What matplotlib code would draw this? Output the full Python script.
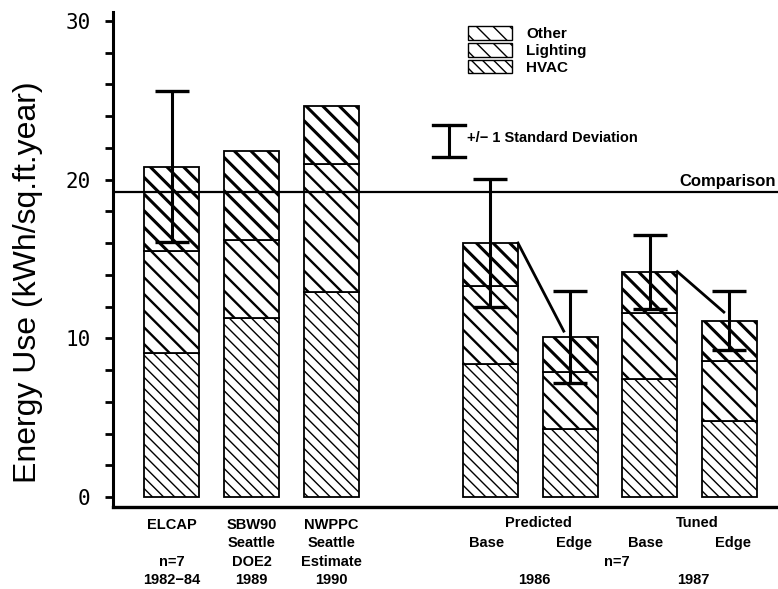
import numpy as np
import matplotlib
matplotlib.use("Agg")
import matplotlib.pyplot as plt
from matplotlib.patches import Patch
from matplotlib.transforms import blended_transform_factory

plt.rcParams["font.family"] = ["Liberation Sans", "DejaVu Sans"]

# ─── Data (kWh/sq.ft.year) ────────────────────────────────────────────────────
bar_pos   = [0, 1, 2, 4, 5, 6, 7]
hvac      = [9.1, 11.3, 12.9, 8.4, 4.3, 7.45, 4.8]
lighting  = [6.4, 4.9, 8.1, 4.9, 3.6, 4.15, 3.75]
other     = [5.3, 5.6, 3.6, 2.7, 2.2, 2.6, 2.55]
std_dev   = [4.75, None, None, 4.05, 2.9, 2.33, 1.85]
comparison = 19.2

# x labels: (x position, rows top to bottom)
label_pos  = [0, 1, 2]
label_rows = [
    ["ELCAP", "", "n=7", "1982\u221284"],
    ["SBW90", "Seattle", "DOE2", "1989"],
    ["NWPPC", "Seattle", "Estimate", "1990"],
]
sub_labels = ["Base", "Edge", "Base", "Edge"]
sub_pos    = [4, 5, 6, 7]
group_labels = ["Predicted", "Tuned"]
group_pos    = [4.6, 6.6]
group_years  = ["1986", "1987"]

# ─── Figure ───────────────────────────────────────────────────────────────────
fig = plt.figure(figsize=(7.78, 5.89), dpi=100)
ax = fig.add_axes([0.1452, 0.1397, 0.8548, 0.8404])

width = 0.69
hvac_a = np.array(hvac)
light_a = np.array(lighting)
other_a = np.array(other)
totals = hvac_a + light_a + other_a

with plt.rc_context({"hatch.linewidth": 1.0}):
    ax.bar(bar_pos, hvac_a, width, color="white", edgecolor="black",
           linewidth=1.3, hatch="\\\\\\")
with plt.rc_context({"hatch.linewidth": 1.7}):
    ax.bar(bar_pos, light_a, width, bottom=hvac_a, color="white",
           edgecolor="black", linewidth=1.3, hatch="\\\\")
with plt.rc_context({"hatch.linewidth": 2.2}):
    ax.bar(bar_pos, other_a, width, bottom=hvac_a + light_a, color="white",
           edgecolor="black", linewidth=1.3, hatch="\\\\")

# comparison line
ax.axhline(comparison, color="black", linewidth=1.6, zorder=3)
ax.text(0.997, comparison + 0.2, "Comparison",
        transform=blended_transform_factory(ax.transAxes, ax.transData),
        ha="right", va="bottom", fontsize=12, fontweight="bold")

# error bars
for x, t, sd in zip(bar_pos, totals, std_dev):
    if sd is None:
        continue
    ax.errorbar(x, t, yerr=sd, fmt="none", ecolor="black", elinewidth=2.2,
                capsize=12, capthick=2.4, zorder=4)

# lines linking base -> edge
ax.plot([4 + width / 2, 4.92], [totals[3], totals[4] + 0.35], color="black", lw=2, zorder=4)
ax.plot([6 + width / 2, 6.93], [totals[5], totals[6] + 0.55], color="black", lw=2, zorder=4)

# axes styling
ax.set_xlim(-0.74, 7.61)
ax.set_ylim(-0.61, 30.57)
ax.spines["top"].set_visible(False)
ax.spines["right"].set_visible(False)
ax.spines["left"].set_linewidth(2.2)
ax.spines["bottom"].set_linewidth(2.4)
ax.set_xticks([])
ax.set_yticks([0, 10, 20, 30])
ax.set_yticks(np.arange(2, 30, 2), minor=True)
ax.tick_params(axis="y", which="both", length=6, width=2.0, direction="out")
ax.tick_params(axis="y", which="major", pad=10, labelsize=15)
for lab in ax.get_yticklabels():
    lab.set_family("DejaVu Sans Mono")
ax.set_ylabel("Energy Use (kWh/sq.ft.year)", fontsize=23)
ax.yaxis.set_label_coords(-0.105, 0.453)

# x labels
tr = blended_transform_factory(ax.transData, fig.transFigure)
row_y = [1 - 525 / 589, 1 - 543 / 589, 1 - 562 / 589, 1 - 580 / 589]
lab_kw = dict(ha="center", va="center", fontsize=10.5, fontweight="bold", transform=tr)
for x, rows in zip(label_pos, label_rows):
    for y, s in zip(row_y, rows):
        if s:
            ax.text(x, y, s, **lab_kw)
for x, s in zip(sub_pos, sub_labels):
    ax.text(x - 0.05 if s == "Base" else x + 0.05, row_y[1], s, **lab_kw)
for x, s, yr in zip(group_pos, group_labels, group_years):
    ax.text(x, 1 - 523 / 589, s, **lab_kw)
    ax.text(x - 0.05, row_y[3], yr, **lab_kw)
ax.text(5.58, row_y[2], "n=7", **lab_kw)

# legend
handles = [
    Patch(facecolor="white", edgecolor="black", hatch="\\\\", label="Other"),
    Patch(facecolor="white", edgecolor="black", hatch="\\\\", label="Lighting"),
    Patch(facecolor="white", edgecolor="black", hatch="\\\\\\", label="HVAC"),
]
ax.legend(handles=handles, loc="upper left", bbox_to_anchor=(468 / 778, 1 - 26 / 589),
          bbox_transform=fig.transFigure, frameon=False, borderpad=0, borderaxespad=0,
          handlelength=2.9, handleheight=1.0, labelspacing=0.12, handletextpad=0.9,
          prop={"weight": "bold", "size": 11})

# std dev key
fx = lambda px: px / 778
fy = lambda py: 1 - py / 589
fig.add_artist(plt.Line2D([fx(449), fx(449)], [fy(125), fy(157)], color="black", lw=2.2))
fig.add_artist(plt.Line2D([fx(433), fx(465)], [fy(125), fy(125)], color="black", lw=2.4))
fig.add_artist(plt.Line2D([fx(433), fx(465)], [fy(157), fy(157)], color="black", lw=2.4))
fig.text(fx(467), fy(138), "+/\u2212 1 Standard Deviation", fontsize=10.5, fontweight="bold",
         va="center", ha="left")

fig.savefig("out.png", dpi=100)
